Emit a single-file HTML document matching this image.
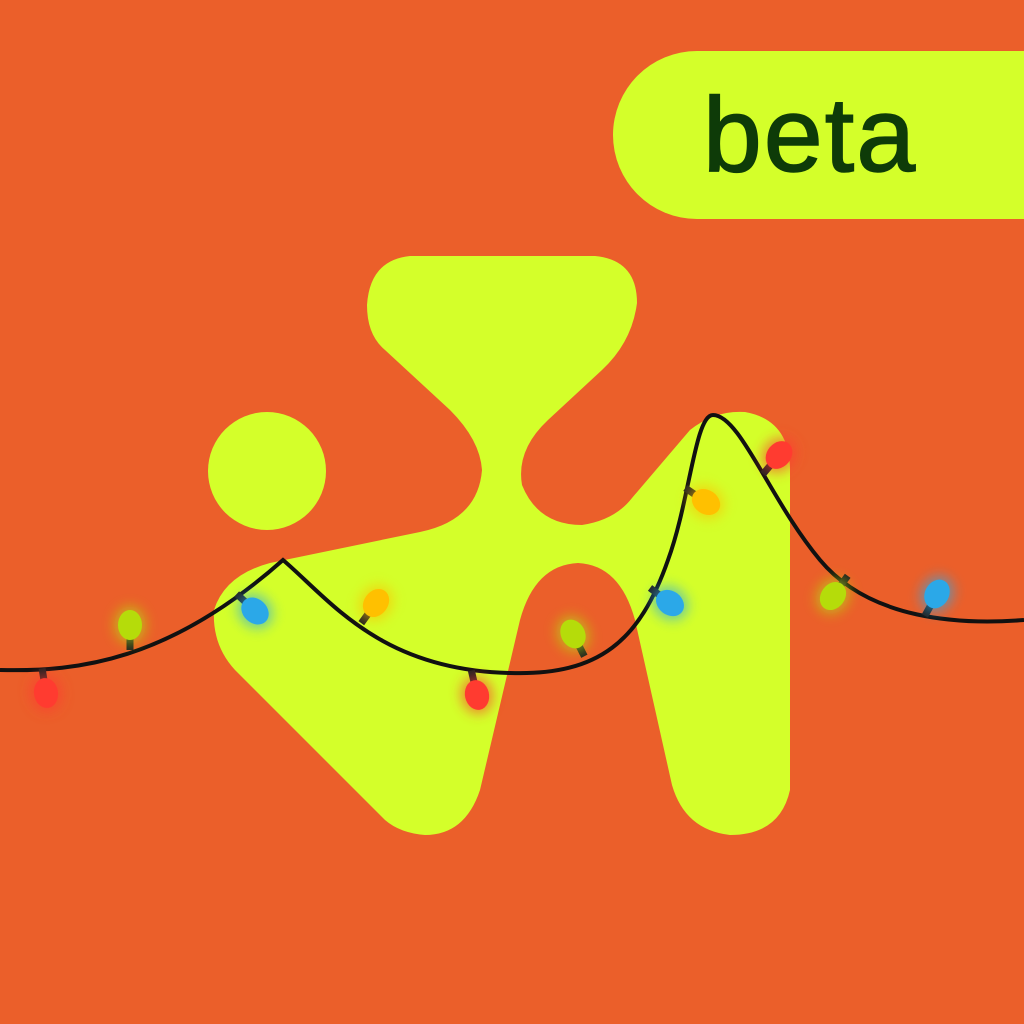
<!DOCTYPE html>
<html><head><meta charset="utf-8"><style>
html,body{margin:0;padding:0;background:#EB5F2A;}
svg{display:block}
</style></head><body>
<svg width="1024" height="1024" viewBox="0 0 1024 1024">
<defs>
<filter id="glow" x="-100%" y="-100%" width="300%" height="300%"><feGaussianBlur stdDeviation="6"/></filter>
<g id="bulb-base"><rect x="-3.5" y="-25" width="7" height="13" fill="#222"/></g>
</defs>
<rect width="1024" height="1024" fill="#EB5F2A"/>
<g>
<path d="M697,51 L1024,51 L1024,219 L697,219 A84,84 0 0 1 697,51 Z" fill="#D4FF2A"/>
<text x="810" y="171" text-anchor="middle" font-family="'Liberation Sans',sans-serif" font-size="106" fill="#0E3B08" stroke="#0E3B08" stroke-width="1.5" letter-spacing="2">beta</text>
</g>
<g fill="#D4FF2A">
<circle cx="267" cy="471" r="59"/>
<path d="M410,256 L595,256 Q637,260 637,303 Q632,342 602,370 L548,420 Q516,450 522,485 Q538,525 582,525 Q615,520 632,498 L690,430 Q715,410 745,412 Q790,420 790,470 L790,790 Q780,835 730,835 Q685,830 672,785 L635,620 Q620,565 578,563 Q535,565 520,620 L480,790 Q465,835 425,835 Q400,833 385,820 L235,670 Q212,645 214,610 Q225,575 270,563 L420,532 Q478,520 482,470 Q480,440 450,410 L385,350 Q367,335 367,305 Q370,260 410,256 Z"/>
</g>
<path fill="none" stroke="#111" stroke-width="4"
d="M0,670 C80,672 170,660 283,560 C330,600 380,670 510,673 C600,676 640,640 668,560 C690,500 695,415 713,415 C740,415 770,500 820,560 C870,620 960,625 1024,620"/>
<g>
<g transform="translate(46,693) rotate(-9)"><use href="#bulb-base"/><ellipse rx="16" ry="19" fill="#FF3B30" opacity="0.6" filter="url(#glow)"/><ellipse rx="12" ry="15" fill="#FF3B30"/></g>
<g transform="translate(130,625) rotate(180)"><use href="#bulb-base"/><ellipse rx="16" ry="19" fill="#B5DC0A" opacity="0.6" filter="url(#glow)"/><ellipse rx="12" ry="15" fill="#B5DC0A"/></g>
<g transform="translate(255,611) rotate(-47)"><use href="#bulb-base"/><ellipse rx="16" ry="19" fill="#2BA8E8" opacity="0.6" filter="url(#glow)"/><ellipse rx="12" ry="15" fill="#2BA8E8"/></g>
<g transform="translate(376,603) rotate(-144)"><use href="#bulb-base"/><ellipse rx="16" ry="19" fill="#FFC000" opacity="0.6" filter="url(#glow)"/><ellipse rx="12" ry="15" fill="#FFC000"/></g>
<g transform="translate(477,695) rotate(-13)"><use href="#bulb-base"/><ellipse rx="16" ry="19" fill="#FF3B30" opacity="0.6" filter="url(#glow)"/><ellipse rx="12" ry="15" fill="#FF3B30"/></g>
<g transform="translate(573,634) rotate(153)"><use href="#bulb-base"/><ellipse rx="16" ry="19" fill="#B5DC0A" opacity="0.6" filter="url(#glow)"/><ellipse rx="12" ry="15" fill="#B5DC0A"/></g>
<g transform="translate(670,603) rotate(-53)"><use href="#bulb-base"/><ellipse rx="16" ry="19" fill="#2BA8E8" opacity="0.6" filter="url(#glow)"/><ellipse rx="12" ry="15" fill="#2BA8E8"/></g>
<g transform="translate(706,502) rotate(-56)"><use href="#bulb-base"/><ellipse rx="16" ry="19" fill="#FFC000" opacity="0.6" filter="url(#glow)"/><ellipse rx="12" ry="15" fill="#FFC000"/></g>
<g transform="translate(779,455) rotate(-140)"><use href="#bulb-base"/><ellipse rx="16" ry="19" fill="#FF3B30" opacity="0.6" filter="url(#glow)"/><ellipse rx="12" ry="15" fill="#FF3B30"/></g>
<g transform="translate(833,596) rotate(36)"><use href="#bulb-base"/><ellipse rx="16" ry="19" fill="#B5DC0A" opacity="0.6" filter="url(#glow)"/><ellipse rx="12" ry="15" fill="#B5DC0A"/></g>
<g transform="translate(937,594) rotate(-151)"><use href="#bulb-base"/><ellipse rx="16" ry="19" fill="#2BA8E8" opacity="0.6" filter="url(#glow)"/><ellipse rx="12" ry="15" fill="#2BA8E8"/></g>
</g>
</svg>
</body></html>
